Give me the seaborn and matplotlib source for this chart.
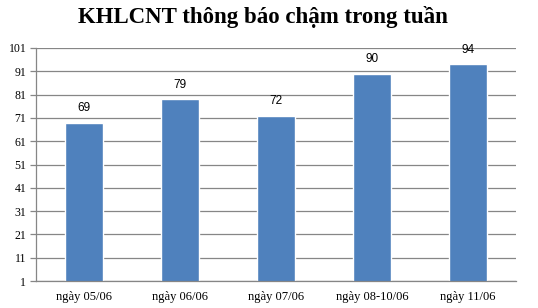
import matplotlib
matplotlib.use("Agg")
import matplotlib.pyplot as plt
import seaborn as sns
import pandas as pd
import numpy as np

categories = ["ngày 05/06", "ngày 06/06", "ngày 07/06", "ngày 08-10/06", "ngày 11/06"]
values = [69, 79, 72, 90, 94]
yticks = [1, 11, 21, 31, 41, 51, 61, 71, 81, 91, 101]
title = "KHLCNT thông báo chậm trong tuần"

sns.set_style("white")
plt.rcParams['font.family'] = ['Liberation Serif', 'DejaVu Serif']
plt.rcParams['text.color'] = 'black'
plt.rcParams['xtick.labelcolor'] = 'black'
plt.rcParams['ytick.labelcolor'] = 'black'

df = pd.DataFrame({"cat": categories, "val": values})

fig = plt.figure(figsize=(5.38, 3.08), dpi=100)
ax = fig.add_axes([36/538, 1 - 281/308, (516-36)/538, (281-48)/308])

sns.barplot(data=df, x="cat", y="val", color="#4F81BD", width=0.4, ax=ax, saturation=1)

ax.set_ylim(1, 101)
ax.set_yticks(yticks)
ax.set_xlim(-0.5, len(categories) - 0.5)
ax.yaxis.grid(True, color="#868686", linewidth=0.9)
ax.set_axisbelow(True)
for s in ["top", "right"]:
    ax.spines[s].set_visible(False)
for s in ["left", "bottom"]:
    ax.spines[s].set_color("#868686")
    ax.spines[s].set_linewidth(0.9)

ax.set_xlabel("")
ax.set_ylabel("")
ax.set_xticks(np.arange(len(categories)))
ax.set_xticklabels(categories, fontsize=9, color="black")
ax.tick_params(axis="x", length=0, pad=7)
ax.set_xticks(np.arange(len(categories) + 1) - 0.5, minor=True)
ax.tick_params(axis="x", which="minor", length=4, color="#868686", width=0.9)
ax.tick_params(axis="y", length=4, color="#868686", width=0.9, labelsize=8.5, pad=3,
               left=True, labelcolor="black")

for i, v in enumerate(values):
    ax.text(i, v + 3.5, str(v), ha="center", va="bottom", fontsize=8.5, color="black",
            family=["Liberation Sans", "DejaVu Sans"])

fig.text(0.488, 1 - 17/308, title, ha="center", va="center", fontsize=16.5,
         fontweight="bold", color="black")

fig.savefig("out.png", dpi=100)
